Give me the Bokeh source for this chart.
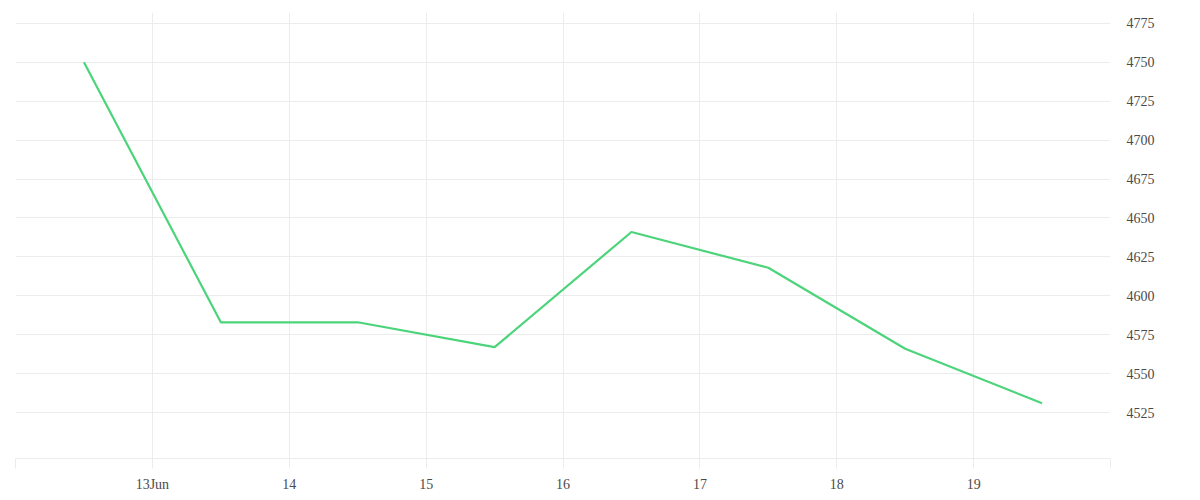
import pandas as pd
from bokeh.plotting import figure
from bokeh.models import FixedTicker, Range1d
from bokeh.embed import file_html
from bokeh.resources import INLINE

# data
dates = ["2023-06-12 12:00", "2023-06-13 12:00", "2023-06-14 12:00", "2023-06-15 12:00",
         "2023-06-16 12:00", "2023-06-17 12:00", "2023-06-18 12:00", "2023-06-19 12:00"]
values = [4750, 4583, 4583, 4567, 4641, 4618, 4566, 4531]
tick_days = ["2023-06-12", "2023-06-13", "2023-06-14", "2023-06-15", "2023-06-16",
             "2023-06-17", "2023-06-18", "2023-06-19", "2023-06-20"]
tick_labels = ["", "13Jun", "14", "15", "16", "17", "18", "19", ""]
y_ticks = [4525, 4550, 4575, 4600, 4625, 4650, 4675, 4700, 4725, 4750, 4775]

x = pd.to_datetime(dates)
tick_ms = [pd.Timestamp(d).value / 1e6 for d in tick_days]

GRID = "#ececec"
FONT = "Liberation Serif"
TEXT = "#4a4a4a"

p = figure(frame_width=1095, frame_height=446, x_axis_type="datetime", output_backend="svg",
           toolbar_location=None, y_axis_location="right",
           x_range=Range1d(pd.Timestamp(tick_days[0]), pd.Timestamp(tick_days[-1])),
           y_range=Range1d(4495.5, 4782),
           min_border_left=15, min_border_right=82, min_border_top=12, min_border_bottom=34)
p.outline_line_color = None
p.background_fill_color = "white"
p.border_fill_color = "white"

p.line(x, values, line_color="#4cd47b", line_width=2.2)

xa = p.xaxis[0]
xa.ticker = FixedTicker(ticks=tick_ms)
xa.major_label_overrides = {t: l for t, l in zip(tick_ms, tick_labels)}
xa.axis_line_color = GRID
xa.major_tick_line_color = GRID
xa.major_tick_in = 0
xa.major_tick_out = 10
xa.minor_tick_line_color = None
xa.major_label_standoff = 8
xa.major_label_text_font = FONT
xa.major_label_text_font_size = "14px"
xa.major_label_text_color = TEXT

ya = p.yaxis[0]
ya.ticker = FixedTicker(ticks=y_ticks)
ya.axis_line_color = None
ya.major_tick_line_color = None
ya.minor_tick_line_color = None
ya.major_tick_in = 0
ya.major_tick_out = 0
ya.major_label_standoff = 16
ya.major_label_text_font = FONT
ya.major_label_text_font_size = "14px"
ya.major_label_text_color = TEXT
ya.major_label_text_align = "left"

p.xgrid.ticker = FixedTicker(ticks=tick_ms)
p.xgrid.grid_line_color = GRID
p.ygrid.ticker = FixedTicker(ticks=y_ticks)
p.ygrid.grid_line_color = GRID

open("out.html", "w").write(file_html(p, INLINE))
